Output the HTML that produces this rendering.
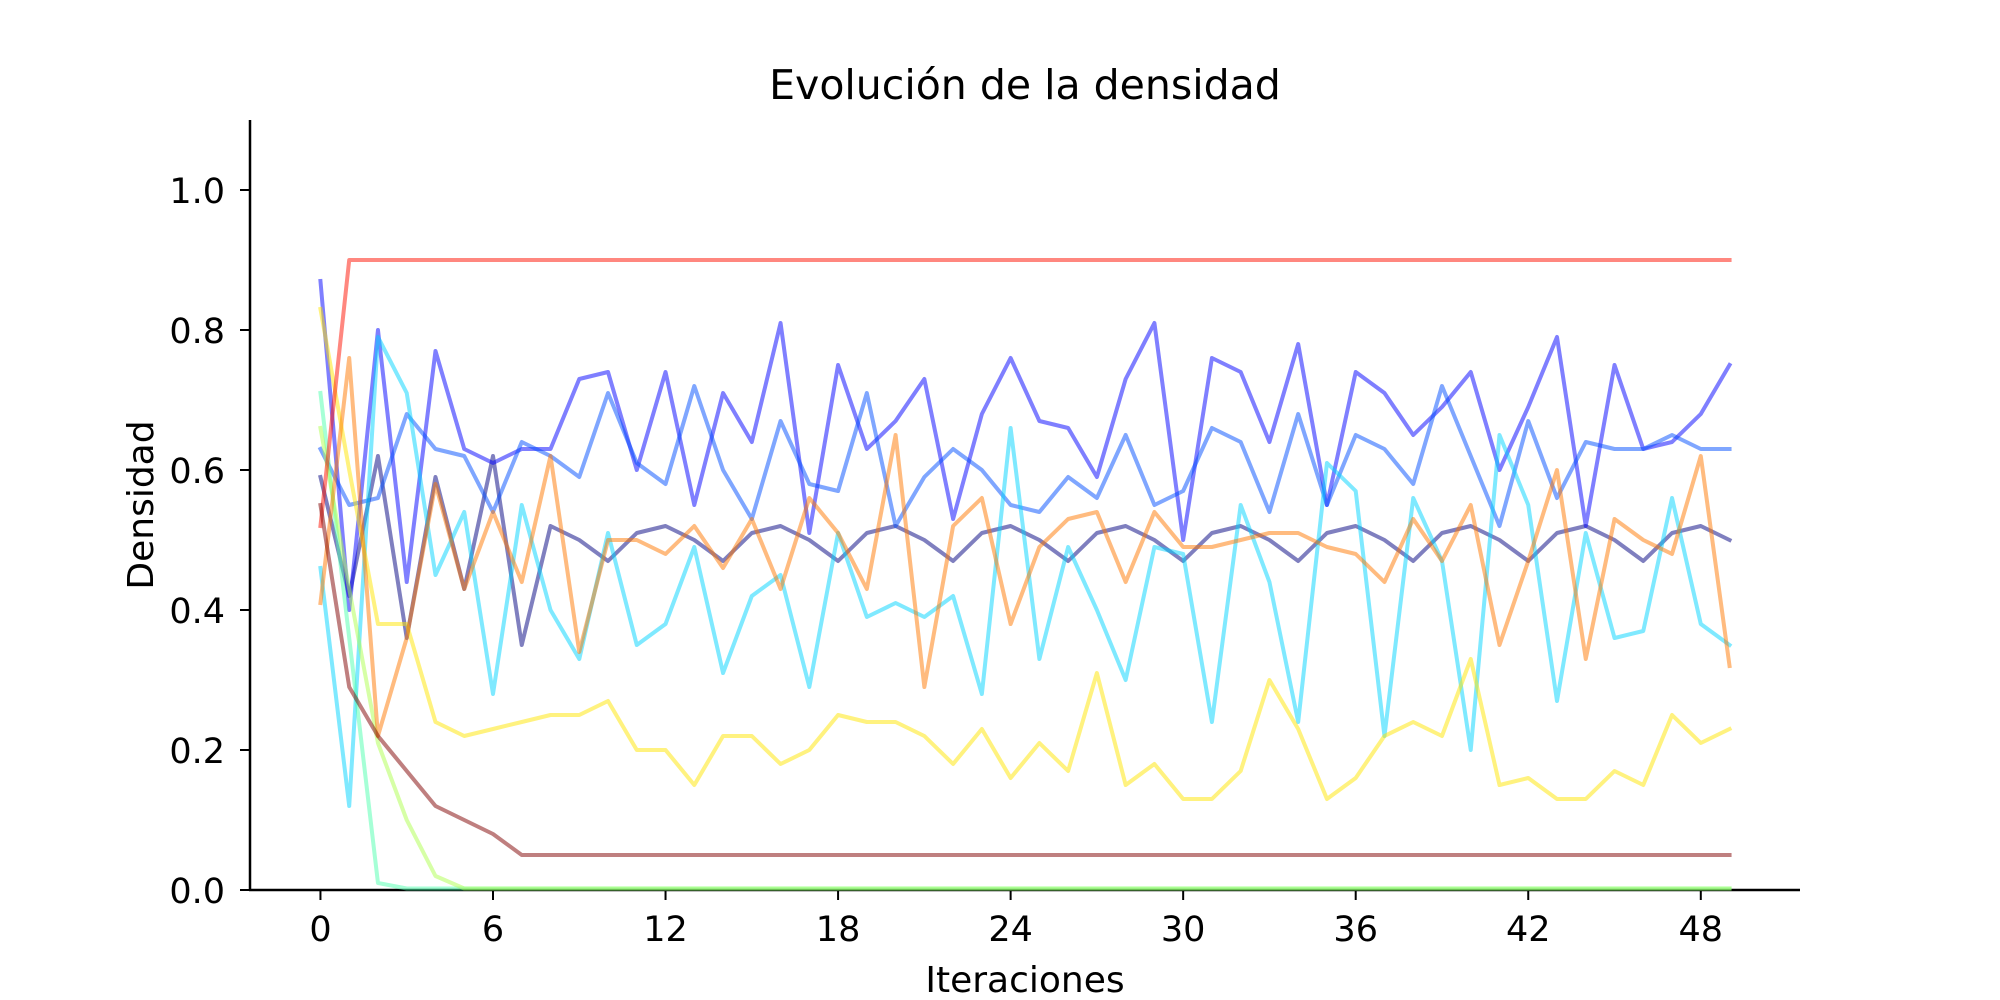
<!DOCTYPE html>
<html><head><meta charset="utf-8"><title>Evolución de la densidad</title>
<style>
html,body{margin:0;padding:0;background:#fff;}
svg{display:block;font-family:"DejaVu Sans","Liberation Sans",sans-serif;}
</style></head>
<body>
<svg id="chart" width="2000" height="1000" viewBox="0 0 2000 1000" xmlns="http://www.w3.org/2000/svg">
<rect width="2000" height="1000" fill="#fff"/>
<text x="1025" y="99" font-size="41" text-anchor="middle" fill="#000">Evolución de la densidad</text>
<g id="axes"></g>
<g id="lines"></g>
<text x="1025" y="992" font-size="36" text-anchor="middle" fill="#000">Iteraciones</text>
<text x="0" y="0" font-size="36" text-anchor="middle" fill="#000" transform="translate(153,505) rotate(-90)">Densidad</text>
</svg>
<script>
const xTicks = [0, 6, 12, 18, 24, 30, 36, 42, 48];
const yTicks = [0.0, 0.2, 0.4, 0.6, 0.8, 1.0];
const yTickLabels = ["0.0", "0.2", "0.4", "0.6", "0.8", "1.0"];
const seriesNames = ["navy","blue","cornflower","cyan","mint","yellowgreen","yellow","orange","red","darkred"];
const seriesColors = ["#000080","#0000ff","#004dff","#00d4ff","#4dffad","#adff4d","#ffe500","#ff7700","#ff1000","#800000"];
const sNavy = [0.59,0.42,0.62,0.36,0.59,0.43,0.62,0.35,0.52,0.50,0.47,0.51,0.52,0.50,0.47,0.51,0.52,0.50,0.47,0.51,0.52,0.50,0.47,0.51,0.52,0.50,0.47,0.51,0.52,0.50,0.47,0.51,0.52,0.50,0.47,0.51,0.52,0.50,0.47,0.51,0.52,0.50,0.47,0.51,0.52,0.50,0.47,0.51,0.52,0.50];
const sBlue = [0.87,0.40,0.80,0.44,0.77,0.63,0.61,0.63,0.63,0.73,0.74,0.60,0.74,0.55,0.71,0.64,0.81,0.51,0.75,0.63,0.67,0.73,0.53,0.68,0.76,0.67,0.66,0.59,0.73,0.81,0.50,0.76,0.74,0.64,0.78,0.55,0.74,0.71,0.65,0.69,0.74,0.60,0.69,0.79,0.52,0.75,0.63,0.64,0.68,0.75];
const sCorn = [0.63,0.55,0.56,0.68,0.63,0.62,0.54,0.64,0.62,0.59,0.71,0.61,0.58,0.72,0.60,0.53,0.67,0.58,0.57,0.71,0.52,0.59,0.63,0.60,0.55,0.54,0.59,0.56,0.65,0.55,0.57,0.66,0.64,0.54,0.68,0.55,0.65,0.63,0.58,0.72,0.62,0.52,0.67,0.56,0.64,0.63,0.63,0.65,0.63,0.63];
const sCyan = [0.46,0.12,0.79,0.71,0.45,0.54,0.28,0.55,0.40,0.33,0.51,0.35,0.38,0.49,0.31,0.42,0.45,0.29,0.51,0.39,0.41,0.39,0.42,0.28,0.66,0.33,0.49,0.40,0.30,0.49,0.48,0.24,0.55,0.44,0.24,0.61,0.57,0.22,0.56,0.47,0.20,0.65,0.55,0.27,0.51,0.36,0.37,0.56,0.38,0.35];
const sMint = [0.71,0.36,0.01,0,0,0,0,0,0,0,0,0,0,0,0,0,0,0,0,0,0,0,0,0,0,0,0,0,0,0,0,0,0,0,0,0,0,0,0,0,0,0,0,0,0,0,0,0,0,0];
const sYG = [0.66,0.43,0.21,0.10,0.02,0,0,0,0,0,0,0,0,0,0,0,0,0,0,0,0,0,0,0,0,0,0,0,0,0,0,0,0,0,0,0,0,0,0,0,0,0,0,0,0,0,0,0,0,0];
const sYellow = [0.83,0.60,0.38,0.38,0.24,0.22,0.23,0.24,0.25,0.25,0.27,0.20,0.20,0.15,0.22,0.22,0.18,0.20,0.25,0.24,0.24,0.22,0.18,0.23,0.16,0.21,0.17,0.31,0.15,0.18,0.13,0.13,0.17,0.30,0.23,0.13,0.16,0.22,0.24,0.22,0.33,0.15,0.16,0.13,0.13,0.17,0.15,0.25,0.21,0.23];
const sOrange = [0.41,0.76,0.22,0.36,0.58,0.43,0.54,0.44,0.62,0.34,0.50,0.50,0.48,0.52,0.46,0.53,0.43,0.56,0.51,0.43,0.65,0.29,0.52,0.56,0.38,0.49,0.53,0.54,0.44,0.54,0.49,0.49,0.50,0.51,0.51,0.49,0.48,0.44,0.53,0.47,0.55,0.35,0.47,0.60,0.33,0.53,0.50,0.48,0.62,0.32];
const sRed = [0.52,0.90,0.90,0.90,0.90,0.90,0.90,0.90,0.90,0.90,0.90,0.90,0.90,0.90,0.90,0.90,0.90,0.90,0.90,0.90,0.90,0.90,0.90,0.90,0.90,0.90,0.90,0.90,0.90,0.90,0.90,0.90,0.90,0.90,0.90,0.90,0.90,0.90,0.90,0.90,0.90,0.90,0.90,0.90,0.90,0.90,0.90,0.90,0.90,0.90];
const sDarkRed = [0.55,0.29,0.22,0.17,0.12,0.10,0.08,0.05,0.05,0.05,0.05,0.05,0.05,0.05,0.05,0.05,0.05,0.05,0.05,0.05,0.05,0.05,0.05,0.05,0.05,0.05,0.05,0.05,0.05,0.05,0.05,0.05,0.05,0.05,0.05,0.05,0.05,0.05,0.05,0.05,0.05,0.05,0.05,0.05,0.05,0.05,0.05,0.05,0.05,0.05];

const NS = "http://www.w3.org/2000/svg";
const L = 250, R = 1800, T = 120, B = 890;
const xMin = -2.45, xMax = 51.45, yMin = 0, yMax = 1.1;
function xs(v){ return L + (v - xMin) / (xMax - xMin) * (R - L); }
function ys(v){ return B - (v - yMin) / (yMax - yMin) * (B - T); }
function mk(tag, attrs, parent){
  const e = document.createElementNS(NS, tag);
  for (const k in attrs) e.setAttribute(k, attrs[k]);
  parent.appendChild(e);
  return e;
}
const allSeries = [sNavy, sBlue, sCorn, sCyan, sMint, sYG, sYellow, sOrange, sRed, sDarkRed];
const gl = document.getElementById("lines");
allSeries.forEach((s, i) => {
  const pts = s.map((v, j) => xs(j).toFixed(2) + "," + (ys(v) - (v === 0 ? 1.5 : 0)).toFixed(2)).join(" ");
  const pl = mk("polyline", {points: pts, fill: "none", stroke: seriesColors[i], "stroke-opacity": 0.5, "stroke-width": 4, "stroke-linejoin": "round", "stroke-linecap": "square"}, gl);
  
  
});
const ga = document.getElementById("axes");
const ls = mk("line", {x1: L, y1: T, x2: L, y2: B + 1, stroke: "#000", "stroke-width": 2.5}, ga);


const bs = mk("line", {x1: L - 1, y1: B, x2: R, y2: B, stroke: "#000", "stroke-width": 2.5}, ga);


xTicks.forEach(t => {
  const x = xs(t);
  const tk = mk("line", {x1: x, y1: B, x2: x, y2: B + 10, stroke: "#000", "stroke-width": 2}, ga);
  
  
  const tx = mk("text", {x: x, y: 941, "font-size": 35, "text-anchor": "middle", fill: "#000"}, ga);
  tx.textContent = String(t);
  
  
});
yTicks.forEach((t, i) => {
  const y = ys(t);
  const tk = mk("line", {x1: L - 10, y1: y, x2: L, y2: y, stroke: "#000", "stroke-width": 2}, ga);
  
  
  const tx = mk("text", {x: 225, y: y + 13, "font-size": 35, "text-anchor": "end", fill: "#000"}, ga);
  tx.textContent = yTickLabels[i];
  
  
});
</script>
</body></html>
